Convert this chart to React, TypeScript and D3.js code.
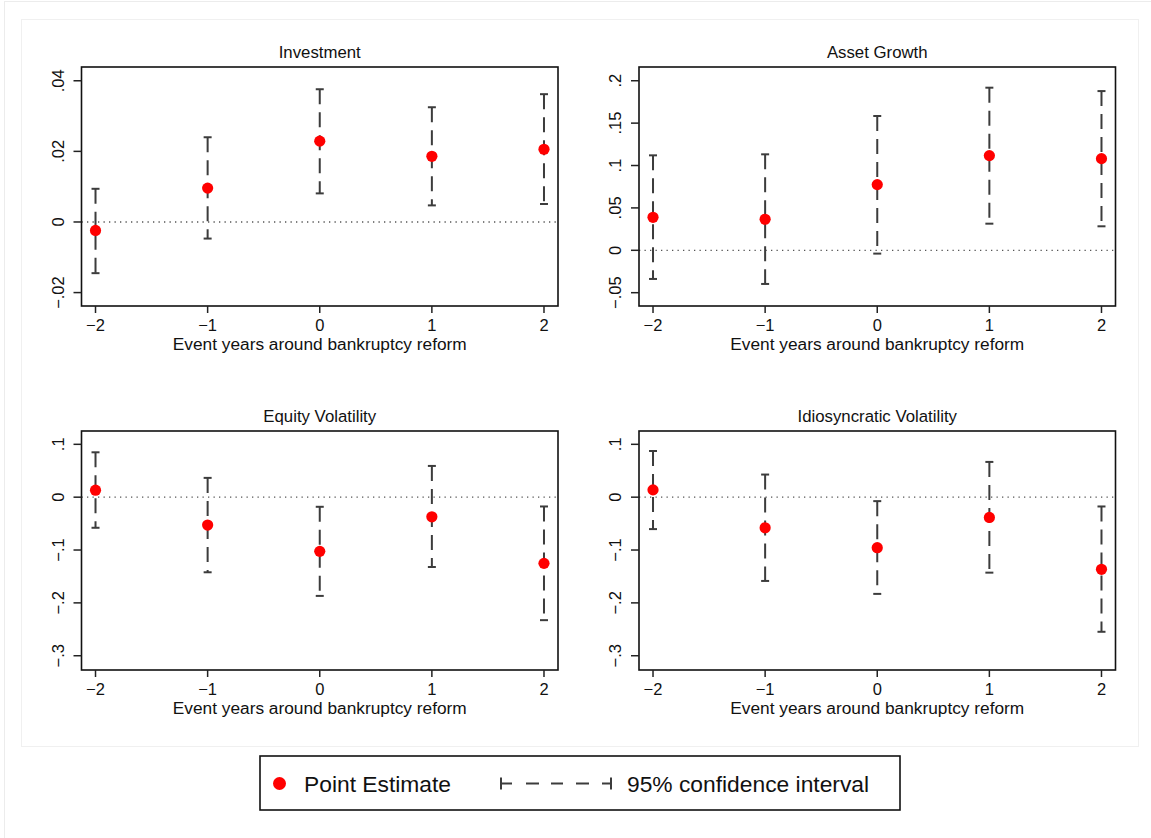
import React from "react";
import * as d3 from "d3";

// ---------- data ----------
const eventYears = [-2, -1, 0, 1, 2];
const xTickLabels = ["\u22122", "\u22121", "0", "1", "2"];
const xAxisTitle = "Event years around bankruptcy reform";

const panelTitles = ["Investment", "Asset Growth", "Equity Volatility", "Idiosyncratic Volatility"];

const investmentEst = [-0.0024, 0.0096, 0.0229, 0.0186, 0.0206];
const investmentLo = [-0.0145, -0.0047, 0.0081, 0.0047, 0.0051];
const investmentHi = [0.0094, 0.024, 0.0376, 0.0325, 0.0362];

const assetGrowthEst = [0.0389, 0.0366, 0.0775, 0.1117, 0.1081];
const assetGrowthLo = [-0.0338, -0.0397, -0.0039, 0.0314, 0.0283];
const assetGrowthHi = [0.112, 0.1132, 0.1584, 0.1918, 0.1878];

const equityVolEst = [0.0132, -0.0528, -0.1025, -0.0371, -0.1252];
const equityVolLo = [-0.0579, -0.1421, -0.1868, -0.1321, -0.2327];
const equityVolHi = [0.0849, 0.0365, -0.0182, 0.0591, -0.0176];

const idioVolEst = [0.0138, -0.0579, -0.0956, -0.0384, -0.1365];
const idioVolLo = [-0.0604, -0.1585, -0.183, -0.1428, -0.2547];
const idioVolHi = [0.0874, 0.0428, -0.0075, 0.0667, -0.0176];

const investmentTicks = [0.04, 0.02, 0, -0.02];
const investmentTickLabels = [".04", ".02", "0", "\u2212.02"];
const assetGrowthTicks = [0.2, 0.15, 0.1, 0.05, 0, -0.05];
const assetGrowthTickLabels = [".2", ".15", ".1", ".05", "0", "\u2212.05"];
const volTicks = [0.1, 0, -0.1, -0.2, -0.3];
const volTickLabels = [".1", "0", "\u2212.1", "\u2212.2", "\u2212.3"];

const investmentDomain = [-0.0238, 0.0439];
const assetGrowthDomain = [-0.0657, 0.2162];
const volDomain = [-0.327, 0.1252];
const xDomain = [-2.125, 2.125];

const legendLabels = ["Point Estimate", "95% confidence interval"];

// ---------- layout ----------
const W = 1151;
const H = 838;
const FONT = "'Liberation Sans', Arial, Helvetica, sans-serif";
const CI_COLOR = "#3c3c3c";
const POINT_COLOR = "#ff0000";

const leftX = [81.5, 558];
const rightX = [639, 1115.5];
const topY = [67, 306];
const botY = [431, 670];

type Panel = {
  title: string;
  est: number[];
  lo: number[];
  hi: number[];
  ticks: number[];
  tickLabels: string[];
  domain: number[];
  xr: number[];
  yr: number[];
};

const panels: Panel[] = [
  { title: panelTitles[0], est: investmentEst, lo: investmentLo, hi: investmentHi, ticks: investmentTicks, tickLabels: investmentTickLabels, domain: investmentDomain, xr: leftX, yr: topY },
  { title: panelTitles[1], est: assetGrowthEst, lo: assetGrowthLo, hi: assetGrowthHi, ticks: assetGrowthTicks, tickLabels: assetGrowthTickLabels, domain: assetGrowthDomain, xr: rightX, yr: topY },
  { title: panelTitles[2], est: equityVolEst, lo: equityVolLo, hi: equityVolHi, ticks: volTicks, tickLabels: volTickLabels, domain: volDomain, xr: leftX, yr: botY },
  { title: panelTitles[3], est: idioVolEst, lo: idioVolLo, hi: idioVolHi, ticks: volTicks, tickLabels: volTickLabels, domain: volDomain, xr: rightX, yr: botY },
];

function PanelView({ p }: { p: Panel }) {
  const x = d3.scaleLinear().domain(xDomain).range(p.xr);
  const y = d3.scaleLinear().domain(p.domain).range([p.yr[1], p.yr[0]]);
  const [x0, x1] = p.xr;
  const [y0, y1] = p.yr;
  const cx = (x0 + x1) / 2;
  return (
    <g>
      <text x={cx} y={y0 - 9} textAnchor="middle" fontSize={16.8} fontFamily={FONT} fill="#111">
        {p.title}
      </text>
      {/* zero reference line */}
      <line x1={x0} x2={x1} y1={y(0)} y2={y(0)} stroke="#555" strokeWidth={1.3} strokeDasharray="1.3 4.2" />
      {/* CIs */}
      {eventYears.map((e, i) => (
        <g key={"ci" + i}>
          <line x1={x(e)} x2={x(e)} y1={y(p.hi[i])} y2={y(p.lo[i])} stroke={CI_COLOR} strokeWidth={2} strokeDasharray="15 8" />
          <line x1={x(e) - 4} x2={x(e) + 4} y1={y(p.hi[i])} y2={y(p.hi[i])} stroke={CI_COLOR} strokeWidth={2} />
          <line x1={x(e) - 4} x2={x(e) + 4} y1={y(p.lo[i])} y2={y(p.lo[i])} stroke={CI_COLOR} strokeWidth={2} />
        </g>
      ))}
      {/* points */}
      {eventYears.map((e, i) => (
        <circle key={"pt" + i} cx={x(e)} cy={y(p.est[i])} r={5.6} fill={POINT_COLOR} />
      ))}
      {/* frame */}
      <rect x={x0} y={y0} width={x1 - x0} height={y1 - y0} fill="none" stroke="#111" strokeWidth={1.6} />
      {/* y ticks */}
      {p.ticks.map((t, i) => (
        <g key={"yt" + i}>
          <line x1={x0 - 8} x2={x0} y1={y(t)} y2={y(t)} stroke="#222" strokeWidth={1.5} />
          <text
            transform={`translate(${x0 - 18},${y(t)}) rotate(-90)`}
            textAnchor="middle"
            fontSize={16.5}
            fontFamily={FONT}
            fill="#111"
          >
            {p.tickLabels[i]}
          </text>
        </g>
      ))}
      {/* x ticks */}
      {eventYears.map((e, i) => (
        <g key={"xt" + i}>
          <line x1={x(e)} x2={x(e)} y1={y1} y2={y1 + 7} stroke="#222" strokeWidth={1.5} />
          <text x={x(e)} y={y1 + 25} textAnchor="middle" fontSize={16.5} fontFamily={FONT} fill="#111">
            {xTickLabels[i]}
          </text>
        </g>
      ))}
      <text x={cx} y={y1 + 43.5} textAnchor="middle" fontSize={17.3} fontFamily={FONT} fill="#111">
        {xAxisTitle}
      </text>
    </g>
  );
}

export default function App() {
  return (
    <svg
      width={W}
      height={H}
      style={{ position: "absolute", left: 0, top: 0, background: "#fff" }}
      xmlns="http://www.w3.org/2000/svg"
    >
      <rect x={0} y={0} width={W} height={H} fill="#fff" />
      <rect x={4.5} y={1.5} width={W + 20} height={H + 20} fill="none" stroke="#ececec" strokeWidth={1} />
      <rect x={21.5} y={19.5} width={1117} height={727} fill="none" stroke="#f0f0f0" strokeWidth={1} />
      {panels.map((p, i) => (
        <PanelView key={i} p={p} />
      ))}
      {/* legend */}
      <g>
        <rect x={260} y={756} width={640} height={54} fill="#fff" stroke="#111" strokeWidth={1.6} />
        <circle cx={279.5} cy={783.5} r={6.5} fill={POINT_COLOR} />
        <text x={304} y={791.5} fontSize={22.8} fontFamily={FONT} fill="#111">
          {legendLabels[0]}
        </text>
        <line x1={501} x2={611} y1={783.5} y2={783.5} stroke={CI_COLOR} strokeWidth={2} strokeDasharray="11 14 13 12 12 13 13 13" />
        <line x1={501} x2={501} y1={777.5} y2={789.5} stroke={CI_COLOR} strokeWidth={2} />
        <line x1={611} x2={611} y1={777.5} y2={789.5} stroke={CI_COLOR} strokeWidth={2} />
        <text x={627} y={791.5} fontSize={22.8} fontFamily={FONT} fill="#111">
          {legendLabels[1]}
        </text>
      </g>
    </svg>
  );
}
